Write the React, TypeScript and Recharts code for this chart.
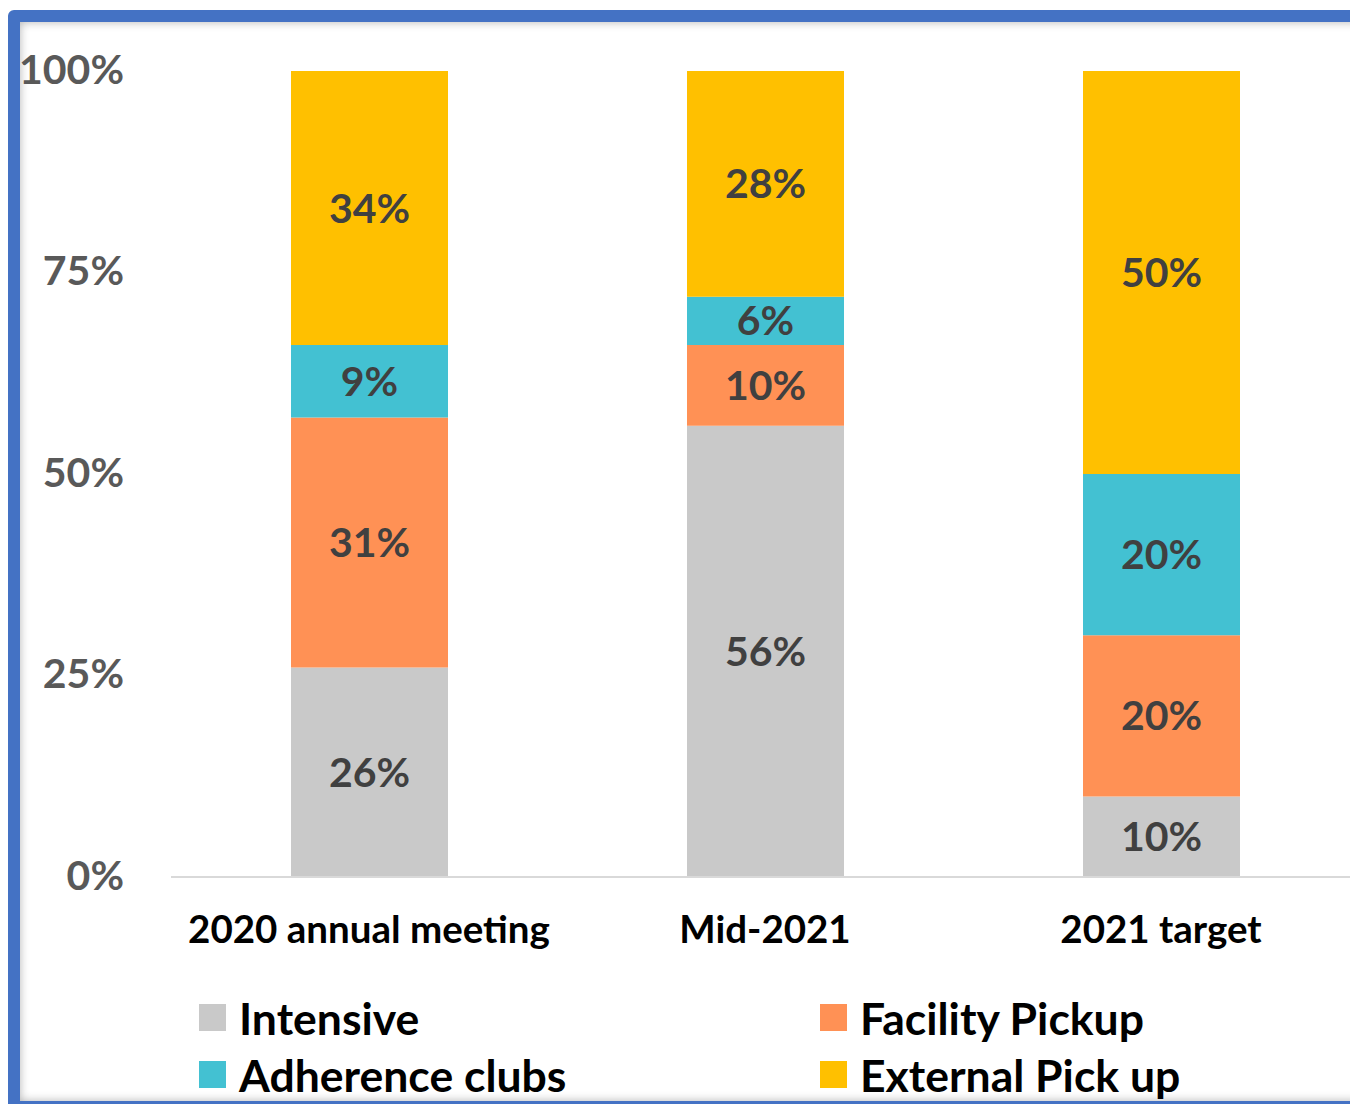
import React from "react";
import { BarChart, Bar, XAxis, YAxis, LabelList } from "recharts";

const categories = ["2020 annual meeting", "Mid-2021", "2021 target"];
const intensive = [26, 56, 10];
const facilityPickup = [31, 10, 20];
const adherenceClubs = [9, 6, 20];
const externalPickup = [34, 28, 50];
const yTicks = [0, 25, 50, 75, 100];

const series = [
  { key: "intensive", name: "Intensive", fill: "#C9C9C9" },
  { key: "facility", name: "Facility Pickup", fill: "#FF9155" },
  { key: "adherence", name: "Adherence clubs", fill: "#43C1D2" },
  { key: "external", name: "External Pick up", fill: "#FFC000" },
];

const data = categories.map((name, i) => ({
  name,
  intensive: intensive[i],
  facility: facilityPickup[i],
  adherence: adherenceClubs[i],
  external: externalPickup[i],
}));

const FONT = "Lato, 'Open Sans', sans-serif";

// legend order as in the picture: left column Intensive / Adherence, right column Facility / External
const legendRows = [
  [series[0], series[1]],
  [series[2], series[3]],
];

function ChartLegend() {
  return (
    <div style={{ position: "absolute", left: 0, top: 994, width: 1350 }}>
      {legendRows.map((row, r) => (
        <div key={r} style={{ position: "relative", height: 57 }}>
          {row.map((s, c) => (
            <div
              key={s.key}
              style={{
                position: "absolute",
                left: c === 0 ? 199 : 820,
                top: 0,
                display: "flex",
                alignItems: "center",
                height: 46,
              }}
            >
              <span style={{ width: 27, height: 27, background: s.fill, display: "inline-block" }} />
              <span
                style={{
                  marginLeft: 13,
                  fontFamily: FONT,
                  fontWeight: 700,
                  fontSize: 44.5,
                  color: "#000",
                  whiteSpace: "nowrap",
                }}
              >
                {s.name}
              </span>
            </div>
          ))}
        </div>
      ))}
    </div>
  );
}

export default function App() {
  return (
    <div
      style={{
        position: "absolute",
        left: 0,
        top: 0,
        width: 1350,
        height: 1104,
        overflow: "hidden",
        background: "#fff",
      }}
    >
      <div
        style={{
          position: "absolute",
          left: 8,
          top: 10,
          width: 1380,
          height: 1103,
          boxSizing: "border-box",
          border: "12px solid #4472C4",
          borderRadius: 6,
          boxShadow: "inset 0 0 10px rgba(0,0,0,0.3)",
        }}
      />
      <div style={{ position: "absolute", left: 0, top: 0 }}>
        <BarChart
          width={1370}
          height={1104}
          data={data}
          margin={{ top: 71, right: 11, bottom: 0, left: 0 }}
        >
          <XAxis
            dataKey="name"
            height={227}
            axisLine={{ stroke: "#D9D9D9", strokeWidth: 2 }}
            tickLine={false}
            tickSize={0}
            tickMargin={39}
            tick={{ fill: "#000", fontSize: 38.5, fontWeight: 700, fontFamily: FONT }}
          />
          <YAxis
            width={171}
            domain={[0, 100]}
            ticks={yTicks}
            axisLine={false}
            tickLine={false}
            tickSize={0}
            tickMargin={47}
            tickFormatter={(v: number) => `${v}%`}
            tick={{ fill: "#595959", fontSize: 41, fontWeight: 700, fontFamily: FONT, dy: -2 }}
          />
          {series.map((s) => (
            <Bar
              key={s.key}
              dataKey={s.key}
              name={s.name}
              stackId="a"
              fill={s.fill}
              barSize={157}
              isAnimationActive={false}
            >
              <LabelList
                dataKey={s.key}
                position="center"
                formatter={(v: any) => `${v}%`}
                style={{ fill: "#404040", fontSize: 41, fontWeight: 700, fontFamily: FONT }}
              />
            </Bar>
          ))}
        </BarChart>
      </div>
      <ChartLegend />
    </div>
  );
}
